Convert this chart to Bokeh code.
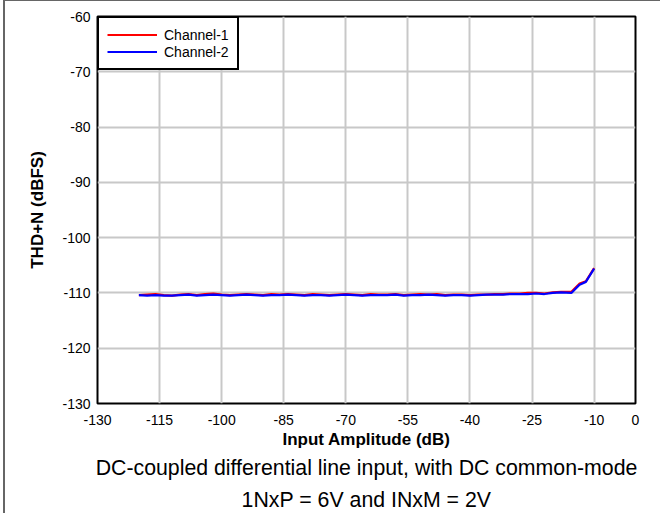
from bokeh.plotting import figure
from bokeh.models import FixedTicker, Legend, LegendItem, Title
from bokeh.embed import file_html
from bokeh.resources import INLINE

# Input amplitude (dB)
amplitude = [-120, -118, -116, -114, -112, -110, -108, -106, -104, -102,
             -100, -98, -96, -94, -92, -90, -88, -86, -84, -82,
             -80, -78, -76, -74, -72, -70, -68, -66, -64, -62,
             -60, -58, -56, -54, -52, -50, -48, -46, -44, -42,
             -40, -38, -36, -34, -32, -30, -28, -26, -24, -22,
             -20, -18, -15.5, -13.5, -12, -10]

# THD+N (dBFS)
channel_1 = [-110.4, -110.3, -110.2, -110.4, -110.5, -110.3, -110.2, -110.4, -110.2, -110.1,
             -110.3, -110.4, -110.3, -110.2, -110.3, -110.4, -110.2, -110.3, -110.2, -110.3,
             -110.4, -110.2, -110.3, -110.4, -110.3, -110.2, -110.3, -110.4, -110.2, -110.3,
             -110.3, -110.2, -110.4, -110.3, -110.2, -110.3, -110.2, -110.4, -110.3, -110.3,
             -110.4, -110.3, -110.3, -110.2, -110.2, -110.1, -110.1, -110.0, -110.0, -110.1,
             -109.9, -109.8, -109.8, -108.3, -107.9, -105.5]

channel_2 = [-110.4, -110.5, -110.4, -110.5, -110.5, -110.4, -110.3, -110.5, -110.4, -110.3,
             -110.4, -110.5, -110.4, -110.3, -110.4, -110.5, -110.4, -110.4, -110.3, -110.4,
             -110.5, -110.4, -110.4, -110.5, -110.4, -110.3, -110.4, -110.5, -110.4, -110.4,
             -110.4, -110.3, -110.5, -110.4, -110.4, -110.3, -110.4, -110.5, -110.4, -110.4,
             -110.5, -110.4, -110.3, -110.3, -110.3, -110.2, -110.2, -110.2, -110.1, -110.2,
             -110.0, -109.9, -110.0, -108.5, -108.0, -105.6]

x_ticks = [-130, -115, -100, -85, -70, -55, -40, -25, -10, 0]
y_ticks = [-130, -120, -110, -100, -90, -80, -70, -60]

caption_lines = ["DC-coupled differential line input, with DC common-mode",
                 "1NxP = 6V and INxM = 2V"]
caption_standoffs = [5, 6]

FONT = "Liberation Sans"

p = figure(width=657, height=513, output_backend="svg", toolbar_location=None,
           x_range=(-130, 0), y_range=(-130, -60),
           min_border_left=92, min_border_right=27, min_border_top=15, min_border_bottom=111)

p.outline_line_color = "black"
p.outline_line_width = 2
p.background_fill_color = "white"
p.border_fill_color = "white"

for ax in (p.xaxis[0], p.yaxis[0]):
    ax.axis_line_color = None
    ax.major_tick_line_color = None
    ax.minor_tick_line_color = None
    ax.major_tick_out = 0
    ax.major_label_text_font = FONT
    ax.major_label_text_font_size = "14px"
    ax.major_label_text_color = "black"
    ax.axis_label_text_font = FONT
    ax.axis_label_text_font_size = "17px"
    ax.axis_label_text_font_style = "bold"
    ax.axis_label_text_color = "black"

p.xaxis.ticker = FixedTicker(ticks=x_ticks)
p.yaxis.ticker = FixedTicker(ticks=y_ticks)
p.xaxis.major_label_overrides = {t: str(t) for t in x_ticks}
p.yaxis.major_label_overrides = {t: str(t) for t in y_ticks}
p.xaxis.axis_label = "Input Amplitude (dB)"
p.yaxis.axis_label = "THD+N (dBFS)"
p.xaxis.major_label_standoff = 11
p.xaxis.axis_label_standoff = 2
p.yaxis.major_label_standoff = 7
p.yaxis.axis_label_standoff = 12

p.grid.grid_line_color = "#c8c8c8"
p.grid.grid_line_width = 2
p.xgrid.ticker = FixedTicker(ticks=x_ticks)
p.ygrid.ticker = FixedTicker(ticks=y_ticks)

r1 = p.line(amplitude, channel_1, line_color="#ff0000", line_width=2.2)
r2 = p.line(amplitude, channel_2, line_color="#0000ff", line_width=2.2)

legend = Legend(items=[LegendItem(label="Channel-1", renderers=[r1]),
                       LegendItem(label="Channel-2", renderers=[r2])],
                location="top_left", margin=0, padding=8, spacing=0,
                glyph_width=50, glyph_height=17, label_height=17, label_standoff=7,
                label_text_font=FONT, label_text_font_size="14px",
                label_text_color="black",
                border_line_color="black", border_line_width=2, border_line_alpha=1,
                background_fill_color="white", background_fill_alpha=1)
p.add_layout(legend)

for line, so in zip(caption_lines, caption_standoffs):
    t = Title(text=line, align="center", text_font=FONT, text_font_size="21.3px",
              text_font_style="normal", text_color="black", standoff=so)
    p.add_layout(t, "below")

p.styles = {"margin-left": "5px", "margin-top": "1px",
            "box-shadow": "-2px -1px 0 #666666"}

open("out.html", "w").write(file_html(p, INLINE))
